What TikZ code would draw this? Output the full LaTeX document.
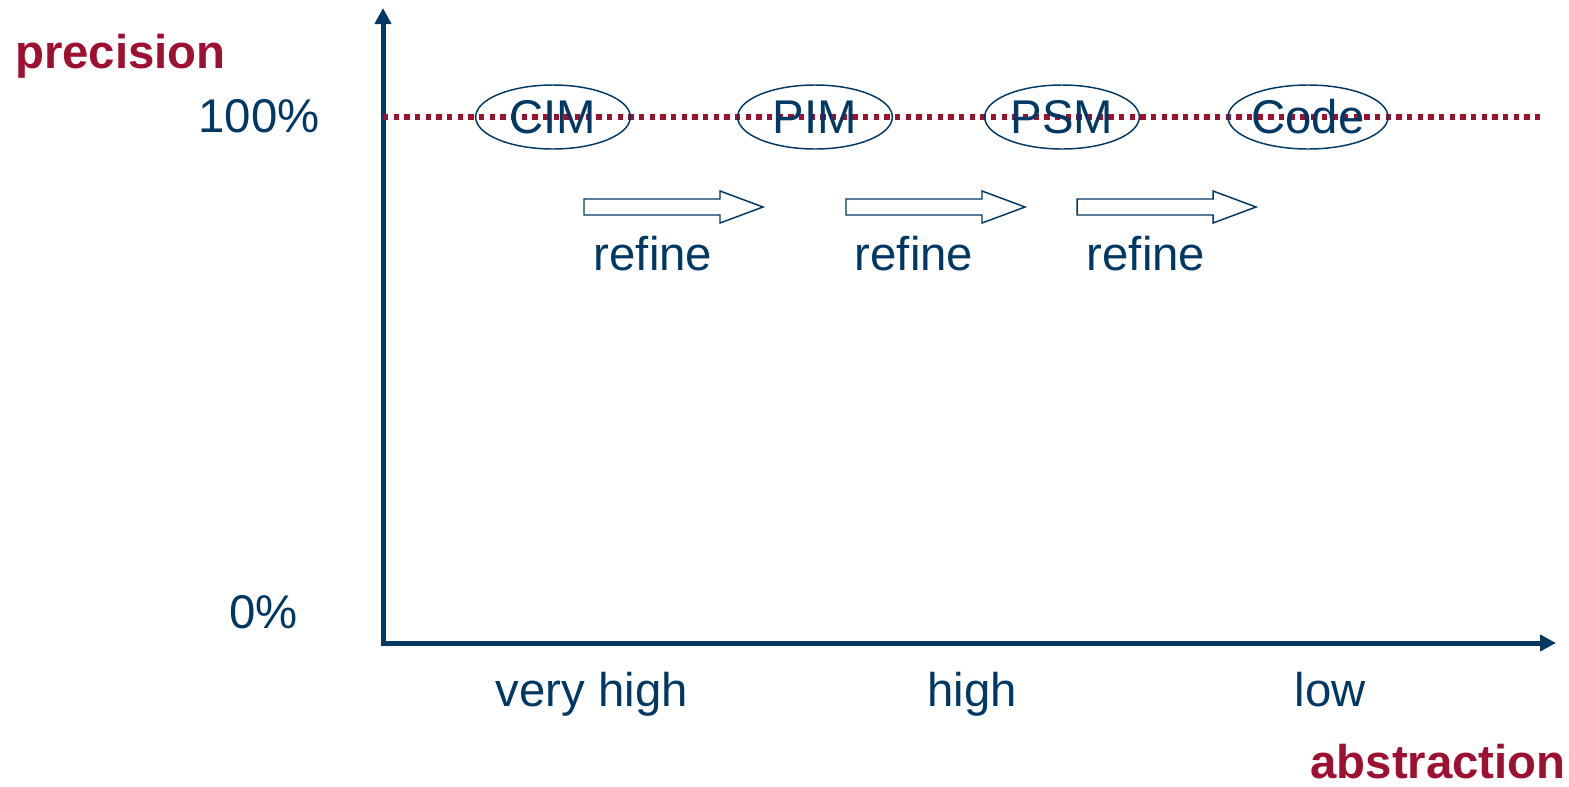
\documentclass[tikz,border=0pt]{standalone}
\usepackage{fontspec}
\setmainfont{Liberation Sans}
\usetikzlibrary{shapes.geometric,arrows.meta}

\definecolor{axisblue}{RGB}{0,56,101}
\definecolor{precred}{RGB}{158,16,48}

\tikzset{
  lbl/.style={text=axisblue,inner sep=0pt,font=\fontsize{35.5}{42}\selectfont},
  title/.style={text=precred,inner sep=0pt,font=\fontsize{35.5}{42}\selectfont\bfseries},
  model/.style={lbl,draw=axisblue,line width=1.1pt,ellipse,minimum width=116pt,minimum height=48pt},
  axis/.style={draw=axisblue,line width=3.75pt,line join=miter,{Triangle[length=12pt,width=12pt]}-{Triangle[length=12pt,width=12pt]}},
  blockarrow/.style={draw=axisblue,line width=1.1pt,fill=white}
}

\begin{document}
\begin{tikzpicture}[x=0.75pt,y=0.75pt,yscale=-1,xscale=1]
\useasboundingbox (0,0) rectangle (1569,786);

% axes
\coordinate (ytip) at (383,8);
\coordinate (origin) at (383,643);
\coordinate (xtip) at (1556,643);
\draw[axis] (ytip) -- (origin) -- (xtip);

% 100% line
\coordinate (full) at (383,117);
\coordinate (fullend) at (1540,117);
\draw[precred,line width=4.2pt,dash pattern=on 4pt off 4pt] (full) -- (fullend);

\node[model] (cim) at (553,117) {CIM};
\node[model] (pim) at (815,117) {PIM};
\node[model] (psm) at (1062,117) {PSM};
\node[model] (code) at (1308,117) {Code};

% refine arrows
\foreach \x in {584,846,1077}
  \draw[blockarrow] (\x,199) -- ++(136,0) -- ++(0,-8) -- ++(43,16) -- ++(-43,16) -- ++(0,-8) -- ++(-136,0) -- cycle;

\node[lbl,anchor=base] (ref1) at (653,270) {refine};
\node[lbl,anchor=base] (ref2) at (914,270) {refine};
\node[lbl,anchor=base] (ref3) at (1146,270) {refine};

% axis labels
\node[title,anchor=base west] (prec) at (15,68) {precision};
\node[lbl,anchor=base east] (hundred) at (320,132) {100\%};
\node[lbl,anchor=base east] (zero) at (298,628) {0\%};
\node[lbl,anchor=base] (vhigh) at (592,706) {very high};
\node[lbl,anchor=base] (high) at (972,706) {high};
\node[lbl,anchor=base] (low) at (1330,706) {low};
\node[title,anchor=base east] (abstr) at (1566,778) {abstraction};

\end{tikzpicture}
\end{document}
